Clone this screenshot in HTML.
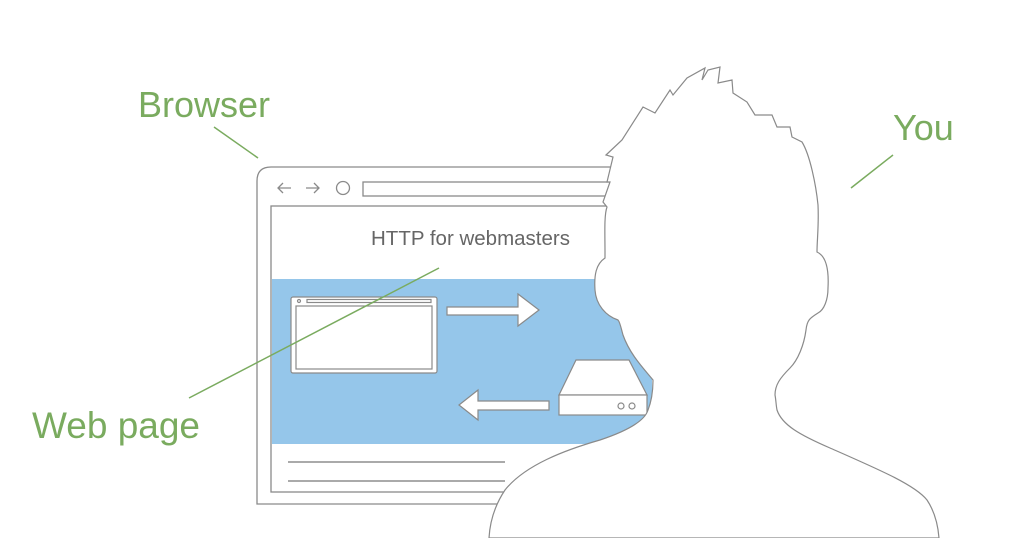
<!DOCTYPE html>
<html><head><meta charset="utf-8"><style>
html,body{margin:0;padding:0;background:#fff;}
svg{display:block;}
</style></head><body>
<svg width="1024" height="538" viewBox="0 0 1024 538" xmlns="http://www.w3.org/2000/svg">
<g fill="none" stroke="#8a8a8a" stroke-width="1.3">
  <path d="M257,504 L257,181 Q257,167 271,167 L640,167 L640,504 Z" fill="#fff"/>
  <path d="M278,188 L291,188 M283,183 L278,188 L283,193"/>
  <path d="M306,188 L319,188 M314,183 L319,188 L314,193"/>
  <circle cx="343" cy="188" r="6.5"/>
  <rect x="363" y="182" width="270" height="14"/>
  <rect x="271" y="206" width="370" height="286" fill="#fff"/>
</g>
<rect x="272" y="279" width="380" height="165" fill="#95c6ea"/>
<text x="371" y="245" font-family="Liberation Sans, sans-serif" font-size="20.5" fill="#666">HTTP for webmasters</text>
<g stroke="#8a8a8a" stroke-width="1.2" fill="#fff">
  <rect x="291" y="297" width="146" height="76" rx="2"/>
  <rect x="296" y="306" width="136" height="63"/>
  <rect x="307" y="299.5" width="124" height="3"/>
  <circle cx="299" cy="301" r="1.5"/>
  <path d="M447,307 L518,307 L518,294 L539,310 L518,326 L518,315 L447,315 Z"/>
  <path d="M549,401 L478,401 L478,390 L459,405 L478,420 L478,410 L549,410 Z"/>
  <path d="M559,395 L576,360 L629,360 L647,395 Z"/>
  <rect x="559" y="395" width="88" height="20"/>
  <circle cx="621" cy="406" r="3" fill="none"/>
  <circle cx="632" cy="406" r="3" fill="none"/>
</g>
<g stroke="#777" stroke-width="1.2">
  <line x1="288" y1="462" x2="505" y2="462"/>
  <line x1="288" y1="481" x2="505" y2="481"/>
</g>
<path fill="#fff" stroke="#8a8a8a" stroke-width="1.2" d="
M606,155 L622,140 L643,107 L655,113 L670,90 L673,95 L687,78 L705,68 L702,80 L708,70 L720,67 L718,83 L732,80 L733,93 L747,102 L755,115 L772,115 L777,127 L790,127 L792,137 L802,142
C810,155 816,185 818,205 C819,225 817,240 817,252
C826,256 829,270 828,288 C828,300 824,310 818,313 C810,318 807,320 806,330
C804,345 798,360 790,368 C780,378 775,385 775,395 C776,400 776,405 777,410
C782,425 800,435 830,448 C880,470 915,485 927,500 C935,512 938,525 939,538
L489,538 C490,520 495,505 505,490 C525,465 565,450 600,440 C630,430 645,420 648,410
C652,400 653,390 653,380 C645,370 630,355 623,335 C621,328 620,322 618,320
C606,316 596,305 595,290 C594,275 596,264 605,258 L605,252 C605,235 604,215 607,207 L603,202 L610,182 L607,182 L613,157 Z"/>
<g font-family="Liberation Sans, sans-serif" fill="#7aab5f">
  <text x="138" y="117" font-size="36">Browser</text>
  <text x="893" y="140" font-size="36">You</text>
  <text x="32" y="438" font-size="37">Web page</text>
</g>
<g stroke="#7aab5f" stroke-width="1.5">
  <line x1="214" y1="127" x2="258" y2="158"/>
  <line x1="893" y1="155" x2="851" y2="188"/>
  <line x1="189" y1="398" x2="439" y2="268"/>
</g>
</svg>
</body></html>
